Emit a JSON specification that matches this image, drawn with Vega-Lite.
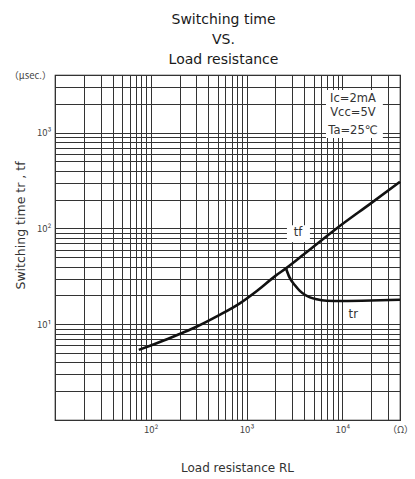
{
  "$schema": "https://vega.github.io/schema/vega-lite/v6.json",
  "width": 345,
  "height": 345,
  "autosize": "none",
  "padding": {"left": 55, "top": 75, "right": 15, "bottom": 59},
  "background": "white",
  "config": {"view": {"stroke": "#111", "strokeWidth": 1.2}, "font": "DejaVu Sans"},
  "title": {"text": ["Switching time", "VS.", "Load resistance"], "fontSize": 14, "fontWeight": "normal", "color": "#1a1a1a", "lineHeight": 20, "offset": 3, "anchor": "middle", "dx": -4, "font": "DejaVu Sans"},
  "datasets": {
    "curves": [
      {"r": 75, "t": 5.4, "s": "tf"}, {"r": 100, "t": 6.0, "s": "tf"}, {"r": 150, "t": 7.0, "s": "tf"}, {"r": 200, "t": 7.9, "s": "tf"}, {"r": 300, "t": 9.4, "s": "tf"}, {"r": 500, "t": 12.2, "s": "tf"}, {"r": 850, "t": 16.5, "s": "tf"}, {"r": 1300, "t": 22.5, "s": "tf"}, {"r": 2000, "t": 32, "s": "tf"}, {"r": 2600, "t": 38.5, "s": "tf"}, {"r": 4000, "t": 54, "s": "tf"}, {"r": 8700, "t": 100, "s": "tf"}, {"r": 20000, "t": 184, "s": "tf"}, {"r": 40000, "t": 307, "s": "tf"},
      {"r": 2600, "t": 37.5, "s": "tr"}, {"r": 2800, "t": 31, "s": "tr"}, {"r": 3200, "t": 25.5, "s": "tr"}, {"r": 3600, "t": 22.3, "s": "tr"}, {"r": 4100, "t": 20.2, "s": "tr"}, {"r": 5400, "t": 18.2, "s": "tr"}, {"r": 6900, "t": 17.6, "s": "tr"}, {"r": 10000, "t": 17.5, "s": "tr"}, {"r": 25000, "t": 17.8, "s": "tr"}, {"r": 40000, "t": 18.0, "s": "tr"}
    ],
    "boxes": [
      {"bx": 6750, "bx2": 26500, "by": 879, "by2": 2785},
      {"bx": 2640, "bx2": 4590, "by": 72, "by2": 108}
    ],
    "notes": [
      {"tx": 3440, "ty": 89.5, "label": "tf"},
      {"tx": 13000, "ty": 12.5, "label": "tr"},
      {"tx": 12900, "ty": 2230, "label": "Ic=2mA"},
      {"tx": 12900, "ty": 1590, "label": "Vcc=5V"},
      {"tx": 12900, "ty": 1040, "label": "Ta=25℃"}
    ]
  },
  "layer": [
    {
      "data": {"name": "boxes"},
      "mark": {"type": "rect", "fill": "white", "stroke": null},
      "encoding": {
        "x": {"field": "bx", "type": "quantitative", "scale": {"type": "log", "domain": [10, 40000], "nice": false, "zero": false},
          "axis": {
            "values": [10,20,30,40,50,60,70,80,90,100,200,300,400,500,600,700,800,900,1000,2000,3000,4000,5000,6000,7000,8000,9000,10000,20000,30000,40000],
            "labelExpr": "datum.value == 100 ? '10²' : datum.value == 1000 ? '10³' : datum.value == 10000 ? '10⁴' : datum.value == 40000 ? '（Ω）' : ''",
            "labelOverlap": false, "labelFlush": false, "labelBound": false,
            "ticks": false, "domain": false,
            "grid": true, "gridColor": "#333", "gridWidth": 1, "gridOpacity": 1,
            "labelFont": "Noto Sans CJK JP", "labelFontSize": 9.5, "labelColor": "#444", "labelPadding": 4, "labelBaseline": "top",
            "title": "Load resistance  RL", "titleFont": "DejaVu Sans", "titleFontSize": 12, "titleFontWeight": "normal", "titleColor": "#333",
            "titleX": 182, "titleY": 42, "titleBaseline": "top"
          }},
        "x2": {"field": "bx2"},
        "y": {"field": "by", "type": "quantitative", "scale": {"type": "log", "domain": [1, 4000], "nice": false, "zero": false},
          "axis": {
            "values": [1,2,3,4,5,6,7,8,9,10,20,30,40,50,60,70,80,90,100,200,300,400,500,600,700,800,900,1000,2000,3000,4000],
            "labelExpr": "datum.value == 10 ? '10¹' : datum.value == 100 ? '10²' : datum.value == 1000 ? '10³' : datum.value == 4000 ? '（μsec.）' : ''",
            "labelOverlap": false, "labelFlush": false, "labelBound": false,
            "ticks": false, "domain": false,
            "grid": true, "gridColor": "#333", "gridWidth": 1, "gridOpacity": 1,
            "labelFont": "Noto Sans CJK JP", "labelFontSize": 9.5, "labelColor": "#444", "labelPadding": 4, "labelBaseline": "middle",
            "title": "Switching time  tr , tf", "titleFont": "DejaVu Sans", "titleFontSize": 12.5, "titleFontWeight": "normal", "titleColor": "#333",
            "titleX": -28, "titleY": 150, "titleBaseline": "bottom"
          }},
        "y2": {"field": "by2"}
      }
    },
    {
      "data": {"name": "curves"},
      "mark": {"type": "line", "color": "#111", "strokeWidth": 2.6, "interpolate": "monotone"},
      "encoding": {
        "x": {"field": "r", "type": "quantitative", "scale": {"type": "log", "domain": [10, 40000], "nice": false, "zero": false}},
        "y": {"field": "t", "type": "quantitative", "scale": {"type": "log", "domain": [1, 4000], "nice": false, "zero": false}},
        "detail": {"field": "s"}
      }
    },
    {
      "data": {"name": "notes"},
      "mark": {"type": "text", "fontSize": 11.5, "color": "#333", "font": "DejaVu Sans", "align": "center", "baseline": "middle"},
      "encoding": {
        "x": {"field": "tx", "type": "quantitative", "scale": {"type": "log", "domain": [10, 40000], "nice": false, "zero": false}},
        "y": {"field": "ty", "type": "quantitative", "scale": {"type": "log", "domain": [1, 4000], "nice": false, "zero": false}},
        "text": {"field": "label"}
      }
    }
  ]
}
